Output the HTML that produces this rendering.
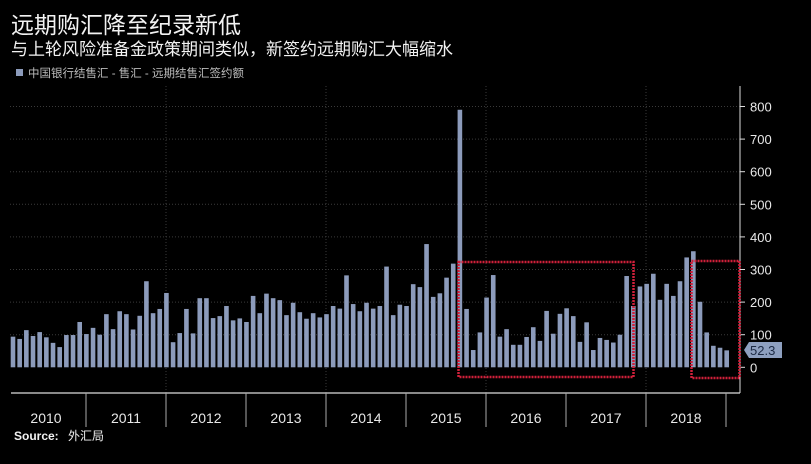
<!DOCTYPE html>
<html><head><meta charset="utf-8"><style>
html,body{margin:0;padding:0;background:#000;width:811px;height:464px;overflow:hidden}
svg{display:block}
text{font-family:"Liberation Sans","Noto Sans CJK SC",sans-serif}
</style></head><body>
<svg id="c" width="811" height="464" xmlns="http://www.w3.org/2000/svg">
<rect width="811" height="464" fill="#000"/>
<text x="11" y="33" fill="#f2f2f2" font-size="23">远期购汇降至纪录新低</text>
<text x="11" y="55" fill="#f2f2f2" font-size="17">与上轮风险准备金政策期间类似，新签约远期购汇大幅缩水</text>
<rect x="16" y="69" width="7" height="7" fill="#8c9bbb"/>
<text x="28" y="77" fill="#bbbbbb" font-size="11.5">中国银行结售汇 - 售汇 - 远期结售汇签约额</text>
<g id="grid"></g>
<g id="bars"></g>
<line x1="740" y1="86" x2="740" y2="393" stroke="#ddd" stroke-width="1"/>
<line x1="11" y1="393" x2="740" y2="393" stroke="#ddd" stroke-width="1.2"/>
<g id="ylab" fill="#e8e8e8" font-size="13"></g>
<g id="xlab" fill="#e8e8e8" font-size="14" text-anchor="middle"></g>
<rect x="458.5" y="262" width="175" height="115" fill="none" stroke="#d0203a" stroke-width="2.5" stroke-dasharray="2,1"/>
<rect x="691.5" y="261" width="48" height="117" fill="none" stroke="#d0203a" stroke-width="2.5" stroke-dasharray="2,1"/>
<polygon points="744,350 749,342 782,342 782,358 749,358" fill="#8ea0c0"/>
<text x="750" y="355" fill="#1c2a44" font-size="13">52.3</text>
<text x="14" y="440" fill="#f2f2f2" font-size="12" font-weight="bold">Source:</text>
<text x="68" y="440" fill="#f2f2f2" font-size="12">外汇局</text>
</svg>
<script>
var v=[94,87,114,96,108,92,75,62,99,99,139,102,121,100,163,117,172,163,116,158,264,166,179,228,77,105,179,104,212,212,151,157,188,144,150,139,219,166,226,212,206,160,198,169,149,166,153,163,188,180,282,194,172,198,180,188,309,160,
192,188,255,246,378,216,227,275,318,790,179,53,107,214,283,94,117,69,69,93,123,81,173,103,164,181,157,78,138,53,90,84,76,100,280,188,248,256,287,207,256,219,264,337,356,201,107,66,60,52];
var ns="http://www.w3.org/2000/svg",y0=367.3,k=0.326;
function el(t,a,p,txt){var e=document.createElementNS(ns,t);for(var i in a)e.setAttribute(i,a[i]);if(txt)e.textContent=txt;document.getElementById(p).appendChild(e);}
for(var g=0;g<=800;g+=100){var y=y0-g*k;
 if(g>0)el('line',{x1:10,x2:740,y1:y,y2:y,stroke:'#3a3a3a','stroke-dasharray':'1,2'},'grid');
 el('line',{x1:740,x2:745,y1:y,y2:y,stroke:'#ddd'},'grid');
 el('text',{x:750,y:y+5},'ylab',String(g));}
[166,326,486,646].forEach(function(x){el('line',{x1:x,x2:x,y1:86,y2:393,stroke:'#3a3a3a','stroke-dasharray':'1,2'},'grid');});
for(var i=0;i<v.length;i++){var x=13+i*6.67,h=v[i]*k;el('rect',{x:x-2.3,y:y0-h,width:4.6,height:h,fill:'#8c9bbb'},'bars');}
for(var yr=0;yr<9;yr++){var xs=6+yr*80;
 if(yr>0)el('line',{x1:xs,x2:xs,y1:393,y2:427,stroke:'#aaa'},'xlab');
 el('text',{x:xs+40,y:423},'xlab',String(2010+yr));}
el('line',{x1:726,x2:726,y1:393,y2:427,stroke:'#aaa'},'xlab');
</script>
</body></html>
